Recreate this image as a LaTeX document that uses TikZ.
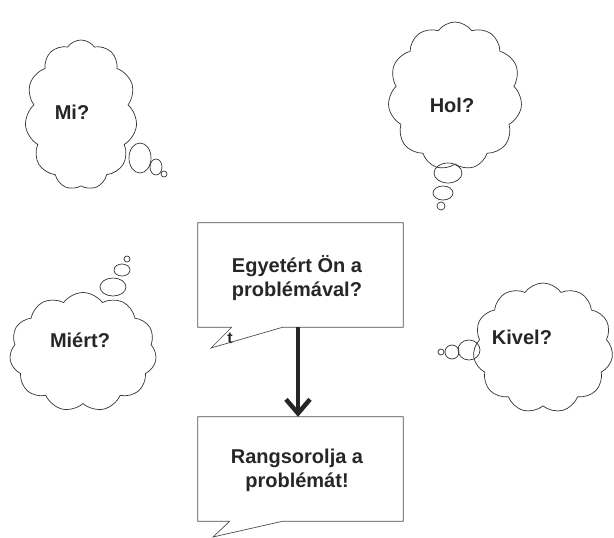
\documentclass[tikz,border=0pt]{standalone}
\usepackage{fontspec}
\setmainfont{Liberation Sans}
\usetikzlibrary{positioning,calc,arrows.meta,shapes.geometric,shapes.symbols}

\begin{document}
\begin{tikzpicture}[x=1pt, y=-1pt,
    thought/.style={cloud, cloud puffs=11, cloud puff arc=110, draw=black!80,
      line width=0.7pt, inner sep=0pt},
    bubble/.style={ellipse, draw=black!80, line width=0.7pt, inner sep=0pt},
    ask/.style={font=\fontsize{20}{24}\selectfont\bfseries, text=black!85,
      align=center},
    note/.style={rectangle, minimum width=205pt, minimum height=104pt,
      inner sep=0pt}]
    \useasboundingbox (0,0) rectangle (614,538);%
    % clouds
    \node[thought, minimum width=112pt, minimum height=150pt] (mi) at (81,115) {};%
    \node[ask] (tmi) at (72,112) {Mi?};%
    \node[bubble, minimum width=22pt, minimum height=30pt] (mi1) at (140,158) {};%
    \node[bubble, minimum width=12pt, minimum height=16pt] (mi2) at (156,167) {};%
    \node[bubble, minimum width=6pt, minimum height=6pt] (mi3) at (164,174) {};%
    \node[thought, minimum width=134pt, minimum height=148pt] (hol) at (455,96) {};%
    \node[ask] (thol) at (452,105) {Hol?};%
    \node[bubble, minimum width=28pt, minimum height=20pt] (hol1) at (448,173) {};%
    \node[bubble, minimum width=20pt, minimum height=14pt] (hol2) at (443,193) {};%
    \node[bubble, minimum width=8pt, minimum height=8pt] (hol3) at (441,206) {};%
    \node[thought, minimum width=147pt, minimum height=119pt] (miert) at (83,352) {};%
    \node[ask] (tmiert) at (80,340) {Miért?};%
    \node[bubble, minimum width=26pt, minimum height=18pt] (miert1) at (113,287) {};%
    \node[bubble, minimum width=16pt, minimum height=12pt] (miert2) at (122,270) {};%
    \node[bubble, minimum width=6pt, minimum height=6pt] (miert3) at (127,259) {};%
    \node[thought, minimum width=140pt, minimum height=130pt] (kivel) at (543,348) {};%
    \node[ask] (tkivel) at (522,337) {Kivel?};%
    \node[bubble, minimum width=22pt, minimum height=20pt] (kivel1) at (469,350) {};%
    \node[bubble, minimum width=14pt, minimum height=14pt] (kivel2) at (452,352) {};%
    \node[bubble, minimum width=6pt, minimum height=6pt] (kivel3) at (441,352) {};%
    % callouts
    \node[note] (egyet) at (300.5,275) {};%
    \node[ask] (tegyet) at (297,278) {Egyetért Ön a\\problémával?};%
    \node[ask, font=\fontsize{16}{18}\selectfont\bfseries] (t) at (230,338) {t};%
    \coordinate (tip1) at (211,348);%
    \draw[draw=black!70, line width=0.7pt] ($(egyet.south west)+(34,0)$) -- (egyet.south west)
      -- (egyet.north west) -- (egyet.north east) -- (egyet.south east)
      -- ($(egyet.south west)+(85,0)$) -- (tip1) -- ($(egyet.south west)+(34,0)$);%
    \node[note] (rang) at (300.5,469) {};%
    \node[ask] (trang) at (297,470) {Rangsorolja a\\problémát!};%
    \coordinate (tip2) at (213,537);%
    \draw[draw=black!70, line width=0.7pt] ($(rang.south west)+(32,0)$) -- (rang.south west)
      -- (rang.north west) -- (rang.north east) -- (rang.south east)
      -- ($(rang.south west)+(85,0)$) -- (tip2) -- ($(rang.south west)+(32,0)$);%
    \draw[-{Straight Barb[length=14pt,width=24pt]}, line width=4.5pt, draw=black!85]
      (egyet.south -| 298,0) -- (rang.north -| 298,0);%
  \end{tikzpicture}
\end{document}
